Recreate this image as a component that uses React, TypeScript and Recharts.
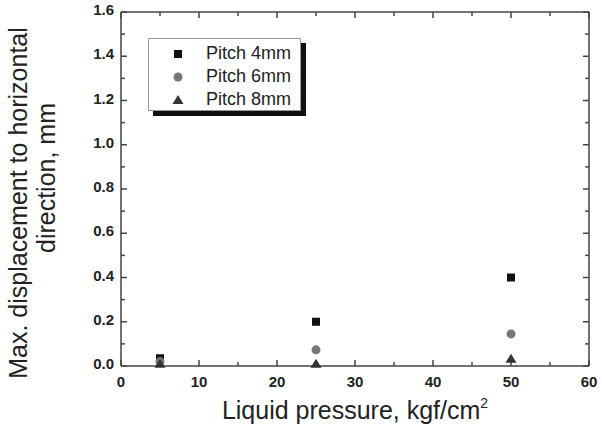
import { ScatterChart, Scatter, XAxis, YAxis, Legend, ReferenceLine } from "recharts";

const pressure = [5, 25, 50];
const pitch4 = [0.035, 0.2, 0.4];
const pitch6 = [0.02, 0.073, 0.145];
const pitch8 = [0.01, 0.01, 0.033];

const xMajor = [0, 10, 20, 30, 40, 50, 60];
const xMinor = [5, 15, 25, 35, 45, 55];
const yMajor = [0, 0.2, 0.4, 0.6, 0.8, 1.0, 1.2, 1.4, 1.6];
const yMinor = [0.1, 0.3, 0.5, 0.7, 0.9, 1.1, 1.3, 1.5];

const X_MAX = 60;
const Y_MAX = 1.6;
// inward tick lengths in data units (about 6px major / 4px minor)
const X_TICK = [0.77, 0.5];
const Y_TICK = [0.027, 0.018];

const FONT = "'Liberation Sans', Arial, sans-serif";
const AXIS = "#444";

const toPoints = (ys: number[]) => pressure.map((x, i) => ({ x, y: ys[i] }));

// eslint-disable-next-line @typescript-eslint/no-explicit-any
const squareShape = (p: any) => (
  <rect x={p.cx - 4} y={p.cy - 4} width={8} height={8} fill="#111" />
);
// eslint-disable-next-line @typescript-eslint/no-explicit-any
const circleShape = (p: any) => <circle cx={p.cx} cy={p.cy} r={4.5} fill="#777" />;
// eslint-disable-next-line @typescript-eslint/no-explicit-any
const triangleShape = (p: any) => (
  <polygon
    points={`${p.cx},${p.cy - 5} ${p.cx - 5.5},${p.cy + 4} ${p.cx + 5.5},${p.cy + 4}`}
    fill="#333"
  />
);

const series = [
  { name: "Pitch 4mm", data: toPoints(pitch4), shape: squareShape },
  { name: "Pitch 6mm", data: toPoints(pitch6), shape: circleShape },
  { name: "Pitch 8mm", data: toPoints(pitch8), shape: triangleShape },
];

// eslint-disable-next-line @typescript-eslint/no-explicit-any
function BottomTick({ x, y, payload }: any) {
  return (
    <text x={x} y={Number(y) + 21} textAnchor="middle" fontSize={15} fontWeight="bold" fill="#222" fontFamily={FONT}>
      {payload.value}
    </text>
  );
}

// eslint-disable-next-line @typescript-eslint/no-explicit-any
function LeftTick({ x, y, payload }: any) {
  return (
    <text x={Number(x) - 7} y={Number(y) + 3} textAnchor="end" fontSize={15} fontWeight="bold" fill="#222" fontFamily={FONT}>
      {Number(payload.value).toFixed(1)}
    </text>
  );
}

function xTickMarks(values: number[], len: number, tag: string) {
  return values.flatMap((v) => [
    <ReferenceLine key={`${tag}b${v}`} segment={[{ x: v, y: 0 }, { x: v, y: len }]} stroke={AXIS} strokeWidth={1.5} />,
    <ReferenceLine key={`${tag}t${v}`} segment={[{ x: v, y: Y_MAX }, { x: v, y: Y_MAX - len }]} stroke={AXIS} strokeWidth={1.5} />,
  ]);
}

function yTickMarks(values: number[], len: number, tag: string) {
  return values.flatMap((v) => [
    <ReferenceLine key={`${tag}l${v}`} segment={[{ x: 0, y: v }, { x: len, y: v }]} stroke={AXIS} strokeWidth={1.5} />,
    <ReferenceLine key={`${tag}r${v}`} segment={[{ x: X_MAX, y: v }, { x: X_MAX - len, y: v }]} stroke={AXIS} strokeWidth={1.5} />,
  ]);
}

function LegendBox() {
  const shapes = [squareShape, circleShape, triangleShape];
  return (
    <div
      style={{
        width: 153,
        height: 73,
        border: "1px solid #999",
        background: "#fff",
        boxShadow: "5px 5px 0 #111",
        fontFamily: FONT,
        paddingTop: 3,
        boxSizing: "border-box",
      }}
    >
      {series.map((s, i) => (
        <div key={s.name} style={{ display: "flex", alignItems: "center", height: 23 }}>
          <svg width={55} height={23}>
            {shapes[i]({ cx: 29, cy: 12 })}
          </svg>
          <span style={{ fontSize: 18, color: "#222", marginLeft: 2 }}>{s.name}</span>
        </div>
      ))}
    </div>
  );
}

export default function App() {
  return (
    <div style={{ position: "absolute", left: 0, top: 0, background: "#fff" }}>
      <ScatterChart width={602} height={426} margin={{ top: 12, right: 13, left: 61, bottom: 30 }}>
        <XAxis
          dataKey="x"
          type="number"
          domain={[0, X_MAX]}
          ticks={xMajor}
          interval={0}
          tickSize={0}
          tickMargin={0}
          tickLine={false}
          height={30}
          stroke={AXIS}
          strokeWidth={1.5}
          tick={<BottomTick />}
          label={{
            content: () => (
              <text x={355} y={419} textAnchor="middle" fontSize={25} fill="#222" fontFamily={FONT}>
                Liquid pressure, kgf/cm
                <tspan dy={-11} fontSize={14}>2</tspan>
              </text>
            ),
          }}
        />
        <YAxis
          dataKey="y"
          type="number"
          domain={[0, Y_MAX]}
          ticks={yMajor}
          interval={0}
          tickSize={0}
          tickMargin={0}
          tickLine={false}
          width={60}
          stroke={AXIS}
          strokeWidth={1.5}
          tick={<LeftTick />}
          label={{
            content: () => (
              <g fontFamily={FONT} fontSize={25} fill="#222">
                <text transform="translate(27,203) rotate(-90)" textAnchor="middle">
                  Max. displacement to horizontal
                </text>
                <text transform="translate(55,178) rotate(-90)" textAnchor="middle">
                  direction, mm
                </text>
              </g>
            ),
          }}
        />
        <ReferenceLine y={Y_MAX} stroke={AXIS} strokeWidth={1.5} />
        <ReferenceLine x={X_MAX} stroke={AXIS} strokeWidth={1.5} />
        {xTickMarks(xMajor, Y_TICK[0], "xM")}
        {xTickMarks(xMinor, Y_TICK[1], "xm")}
        {yTickMarks(yMajor, X_TICK[0], "yM")}
        {yTickMarks(yMinor, X_TICK[1], "ym")}
        <Legend
          layout="horizontal"
          verticalAlign="middle"
          content={<LegendBox />}
          wrapperStyle={{ left: 148, top: 38, width: 153, height: 73 }}
        />
        {series.map((s) => (
          <Scatter
            key={s.name}
            name={s.name}
            data={s.data}
            shape={s.shape}
            isAnimationActive={false}
          />
        ))}
      </ScatterChart>
    </div>
  );
}
